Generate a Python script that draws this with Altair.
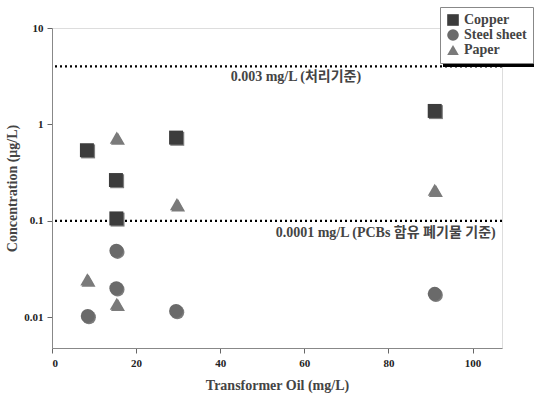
import altair as alt
import pandas as pd

# Data
oil = [8.3, 15.2, 15.3, 29.5, 91.0,
       8.5, 15.3, 15.3, 29.5, 91.0,
       8.4, 15.4, 15.4, 29.7, 91.0]
conc = [0.54, 0.265, 0.106, 0.73, 1.38,
        0.0103, 0.020, 0.049, 0.0116, 0.0175,
        0.0247, 0.0138, 0.73, 0.149, 0.21]
series = ["Copper"] * 5 + ["Steel sheet"] * 5 + ["Paper"] * 5
categories = ["Copper", "Steel sheet", "Paper"]
shapes = ["square", "circle", "triangle-up"]

limit_values = [4.0, 0.1]
limit_labels = ["0.003 mg/L (처리기준)", "0.0001 mg/L (PCBs 함유 폐기물 기준)"]
label_x = [58, 105.5]

x_ticks = [0, 20, 40, 60, 80, 100]
y_ticks = [0.01, 0.1, 1, 10]

FONT = "Liberation Serif, Noto Sans CJK KR, serif"
LEG_FONT = "Liberation Serif"

df = pd.DataFrame({"series": series, "oil": oil, "conc": conc})
lim = pd.DataFrame({"y": limit_values, "label": limit_labels, "x": label_x})

xs = alt.Scale(domain=[0, 107], nice=False, zero=False)
ys = alt.Scale(type="log", domain=[0.0048, 10], nice=False)

shape_scale = alt.Scale(domain=categories, range=shapes)
color_scale = alt.Scale(domain=categories, range=["#3c3c3c", "#6a6a6a", "#7a7a7a"])

legend = alt.Legend(title=None, orient="none", legendX=388, legendY=-21,
                    fillColor="white", strokeColor="#888888",
                    padding=6, rowPadding=1, symbolSize=135,
                    labelFont=LEG_FONT, labelFontSize=14,
                    labelFontWeight="bold", labelColor="#444444",
                    symbolStrokeWidth=0, symbolOpacity=1)

axis_common = dict(grid=False, labelFont=FONT, titleFont=FONT, labelFontWeight="bold",
                   titleFontWeight="bold", labelFontSize=11, titleFontSize=14,
                   labelColor="#222222", titleColor="#444444", domainColor="#888888",
                   tickColor="#666666", tickSize=5, labelPadding=4)

base = alt.Chart(df)

shadows = [
    base.transform_filter(alt.datum.series == cat).mark_point(
        filled=True, opacity=0.55, xOffset=1.2, yOffset=1.2, color="#111",
        size=195, shape=shp).encode(
        x=alt.X("oil:Q", scale=xs),
        y=alt.Y("conc:Q", scale=ys),
    )
    for cat, shp in zip(categories, shapes)
]

points = base.mark_point(filled=True, opacity=1, size=195).encode(
    x=alt.X("oil:Q", scale=xs,
            axis=alt.Axis(title="Transformer Oil (mg/L)", values=x_ticks, format="d",
                          titlePadding=10, **axis_common)),
    y=alt.Y("conc:Q", scale=ys,
            axis=alt.Axis(title="Concentration (μg/L)", values=y_ticks, format="~g",
                          titlePadding=4, **axis_common)),
    shape=alt.Shape("series:N", scale=shape_scale, legend=legend),
    color=alt.Color("series:N", scale=color_scale, legend=legend),
)

legend_shadow = alt.Chart(lim).mark_rect(color="black").encode(
    x=alt.value(391), x2=alt.value(484), y=alt.value(-16), y2=alt.value(39)
).transform_filter("datum.y > 1")

rules = alt.Chart(lim).mark_rule(color="black", strokeDash=[2, 3], strokeWidth=2.2).encode(
    y=alt.Y("y:Q", scale=ys)
)

text_up = alt.Chart(lim).mark_text(font=FONT, fontSize=14, fontWeight="bold",
                                    color="#444444", align="center", dy=11).encode(
    x=alt.X("x:Q", scale=xs), y=alt.Y("y:Q", scale=ys), text="label:N"
).transform_filter("datum.y > 1")

text_low = alt.Chart(lim).mark_text(font=FONT, fontSize=14, fontWeight="bold",
                                     color="#444444", align="right", dy=12).encode(
    x=alt.X("x:Q", scale=xs), y=alt.Y("y:Q", scale=ys), text="label:N"
).transform_filter("datum.y < 1")

chart = alt.layer(legend_shadow, rules, text_up, text_low, *shadows, points).properties(
    width=450, height=320,
    autosize=alt.AutoSizeParams(type="none"),
    padding={"left": 52, "top": 28, "right": 32, "bottom": 47},
).configure_view(
    stroke="#888888", strokeWidth=1.2
).configure_legend(
    labelFont=LEG_FONT, labelFontWeight="bold", labelFontSize=14, labelColor="#444444"
).configure(background="white")

chart.save("out.html", embed_options={"renderer": "svg", "actions": False})
